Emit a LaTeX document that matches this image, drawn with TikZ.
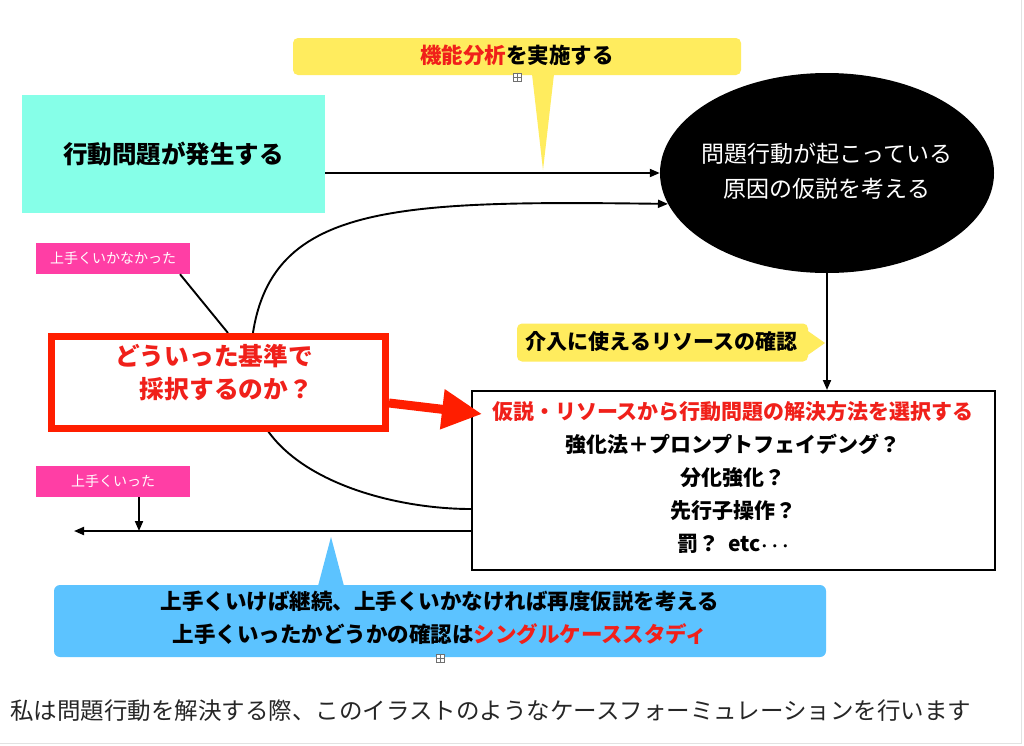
\documentclass[tikz,border=0pt]{standalone}
\usepackage{fontspec}
\setmainfont{Noto Sans CJK JP}
\usetikzlibrary{arrows.meta,shapes.geometric,calc}
\definecolor{cyanfill}{HTML}{86FFE8}
\definecolor{yfill}{HTML}{FFEC5E}
\definecolor{pinkfill}{HTML}{FF3EA5}
\definecolor{bluefill}{HTML}{5CC3FF}
\definecolor{jred}{HTML}{F0201A}
\definecolor{boxred}{HTML}{FF1E00}
\definecolor{edgegray}{HTML}{E2E2E2}
\definecolor{icongray}{HTML}{707070}
\begin{document}
\begin{tikzpicture}[x=1pt,y=-1pt,
  conn/.style={line width=1.9pt,-{Triangle[length=10pt,width=8pt]}},
  plainline/.style={line width=1.9pt},
  cyanbox/.style={fill=cyanfill,inner sep=0pt,minimum width=303pt,minimum height=118pt,
    font=\fontsize{24.5}{29}\selectfont\bfseries},
  pinkbox/.style={fill=pinkfill,inner sep=0pt,minimum width=154pt,minimum height=31pt,
    text=white,font=\fontsize{14}{17}\selectfont},
  ybox/.style={fill=yfill,rounded corners=5pt,inner sep=0pt},
  bluebox/.style={fill=bluefill,rounded corners=6pt,inner sep=0pt},
  redframe/.style={draw=boxred,line width=7pt,fill=white,inner sep=0pt,minimum width=334pt,minimum height=92pt},
  mainbox/.style={draw=black,line width=2pt,fill=white,inner sep=0pt,minimum width=523pt,minimum height=179pt},
  icon/.style={draw=icongray,line width=0.6pt,fill=white,minimum size=8pt,inner sep=0pt},
  txt/.style={inner sep=0pt,align=center}]
\useasboundingbox (0,0) rectangle (1024,745);
\fill[white] (0,0) rectangle (1024,745);
% faint page edges
\draw[edgegray,line width=1pt] (1021,0) -- (1021,743) -- (0,743);

% cyan box
\node[cyanbox] (cyan) at (173.5,154) {行動問題が発生する};

% ellipse
\node[ellipse,fill=black,minimum width=334pt,minimum height=200pt,inner sep=0pt] (ell) at (827,173) {};
\node[txt,text=white,font=\fontsize{23}{35}\selectfont] (elltext) at (827,171) {問題行動が起こっている\\原因の仮説を考える};

% top yellow callout
\fill[yfill] (532,74) -- (543,170) -- (554,74) -- cycle;
\node[ybox,minimum width=448pt,minimum height=37pt] (fa) at (517,56.5) {};
\node[txt,font=\fontsize{21.5}{26}\selectfont\bfseries] (fatext) at (517,55) {\textcolor{jred}{機能分析}を実施する};
\node[icon] (icon1) at (517,77) {};
\draw[icongray,line width=0.6pt] (icon1.north) -- (icon1.south) (icon1.west) -- (icon1.east);

% arrows into ellipse
\draw[conn] (cyan.east |- ell.west) -- (ell.west);

% main box
\node[mainbox] (rbox) at (733.5,480.5) {};
\node[txt,font=\fontsize{21}{33}\selectfont\bfseries] (rtext) at (733,477.5)
 {\textcolor{jred}{仮説・リソースから行動問題の解決方法を選択する}\\強化法＋プロンプトフェイデング？\\分化強化？\\先行子操作？\\罰？\hspace{0.45em}etc{\boldmath$\cdots$}};

% big loop curve
\coordinate (loopstart) at (472,509);
\draw[conn] (rbox.west |- loopstart) .. controls (380,509) and (250,470) .. (250,375)
  .. controls (250,205) and (370,200) .. (ell.191);

% vertical arrow
\draw[conn] (ell.south) -- (ell.south |- rbox.north);

% resources callout
\fill[yfill] (805,329) -- (825,343) -- (805,357) -- cycle;
\node[ybox,minimum width=291pt,minimum height=38pt] (res) at (662.5,342.5) {};
\node[txt,font=\fontsize{21}{25}\selectfont\bfseries] (restext) at (661.5,341) {介入に使えるリソースの確認};

% pink labels
\node[pinkbox] (p1) at (113,258.5) {上手くいかなかった};
\node[pinkbox] (p2) at (113,481.5) {上手くいった};
\coordinate (p1end) at (228,333);
\draw[plainline] ($(p1.south)+(67,0)$) -- (p1end);

% left output arrow
\coordinate (leftend) at (74,531);
\coordinate (downx) at (139,531);
\draw[conn] (rbox.west |- leftend) -- (leftend);
\draw[conn] (p2.south -| downx) -- (downx);

% red question box
\node[redframe] (q) at (218.5,382.5) {};
\node[txt,text=jred,font=\fontsize{24.7}{33}\selectfont\bfseries] (qtext) at (214,373)
 {どういった基準で\\　採択するのか？};
\coordinate (qtip) at (482,414);
\draw[boxred,line width=9pt,-{Triangle[length=40pt,width=38pt]}] (q.east |- 0,403) -- (qtip);

% blue callout
\fill[bluefill] (318,586) -- (331,537) -- (344,586) -- cycle;
\node[bluebox,minimum width=772pt,minimum height=72pt] (blue) at (440,621) {};
\node[txt,font=\fontsize{21.5}{33}\selectfont\bfseries] (bluetext) at (440,618)
 {上手くいけば継続、上手くいかなければ再度仮説を考える\\上手くいったかどうかの確認は\textcolor{jred}{シングルケーススタディ}};
\node[icon] (icon2) at (440,658) {};
\draw[icongray,line width=0.6pt] (icon2.north) -- (icon2.south) (icon2.west) -- (icon2.east);

% caption
\node[inner sep=0pt,anchor=west,font=\fontsize{23.5}{28}\selectfont,text=black!85] (caption) at (10,711)
 {私は問題行動を解決する際、このイラストのようなケースフォーミュレーションを行います};
\end{tikzpicture}
\end{document}
